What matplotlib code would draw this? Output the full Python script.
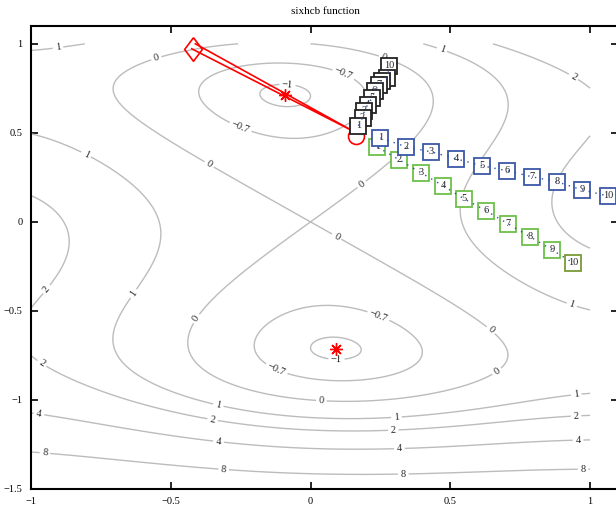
import numpy as np
import matplotlib
matplotlib.use("Agg")
import matplotlib.pyplot as plt

plt.rcParams['font.family'] = ['Liberation Serif', 'DejaVu Serif']

# contour field: six-hump camel back function
levels = [-1, -0.7, 0, 1, 2, 4, 8]
gx = np.linspace(-1, 1, 401)
gy = np.linspace(-1.5, 1, 501)

def sixhcb(x, y):
    return (4 - 2.1 * x**2 + x**4 / 3) * x**2 + x * y + (-4 + 4 * y**2) * y**2

# contour label positions
label_pos = [(-0.904, 0.983), (-0.55, 0.91), (-0.082, 0.775), (0.118, 0.83),
             (-0.25, 0.534), (0.264, 0.927), (0.471, 0.972), (0.943, 0.82),
             (-0.8, 0.388), (-0.364, 0.32), (0.182, 0.213), (0.093, -0.084),
             (-0.946, -0.376), (-0.632, -0.404), (-0.407, -0.545), (0.243, -0.528),
             (0.643, -0.612), (0.093, -0.764), (-0.121, -0.826), (0.668, -0.843),
             (0.039, -1.0), (0.936, -0.46), (-0.96, -0.792), (-0.329, -1.022),
             (0.307, -1.09), (0.95, -0.966), (-0.35, -1.107), (0.296, -1.169),
             (0.95, -1.09), (-0.971, -1.073), (-0.329, -1.23), (0.318, -1.275),
             (0.957, -1.219), (-0.95, -1.292), (-0.311, -1.388), (0.332, -1.416),
             (0.975, -1.388)]

# minima
min_x = [-0.0898, 0.0898]
min_y = [0.7126, -0.7126]

# red search path
start_x, start_y = -0.422, 0.97
end_x, end_y = 0.161, 0.483
path_x = [-0.412, 0.158, -0.425]
path_y = [1.0, 0.505, 0.972]

# numbered iterates
black_x = [0.171, 0.186, 0.193, 0.204, 0.221, 0.229, 0.246, 0.257, 0.275, 0.282]
black_y = [0.54, 0.585, 0.624, 0.657, 0.697, 0.736, 0.770, 0.792, 0.809, 0.876]
blue_x = [0.25, 0.343, 0.432, 0.521, 0.614, 0.704, 0.793, 0.882, 0.971, 1.064]
blue_y = [0.472, 0.421, 0.393, 0.354, 0.315, 0.287, 0.253, 0.225, 0.180, 0.146]
green_x = [0.239, 0.318, 0.396, 0.475, 0.55, 0.629, 0.707, 0.786, 0.864, 0.939]
green_y = [0.421, 0.348, 0.275, 0.202, 0.129, 0.062, -0.011, -0.084, -0.157, -0.230]
step_labels = [str(i) for i in range(1, 11)]

fig = plt.figure(figsize=(6.16, 5.08), dpi=100)
ax = fig.add_axes([31 / 616, 19 / 508, 587 / 616, 463 / 508])

X, Y = np.meshgrid(gx, gy)
cs = ax.contour(X, Y, sixhcb(X, Y), levels=levels, colors='#bcbcbc', linewidths=1.0,
                negative_linestyles='solid')

def fmt(v):
    s = f'{v:g}'
    return s.replace('-', '\u2212')

ax.clabel(cs, levels, manual=label_pos, inline=True, fmt=fmt, fontsize=7.5,
          colors='#222222', inline_spacing=3)

ax.plot(path_x, path_y, color='red', lw=1.2, zorder=5)
diamond = [(0, 1), (0.75, 0), (0, -1), (-0.75, 0), (0, 1)]
ax.plot(start_x, start_y, marker=diamond, ms=17, mfc='none', mec='red', mew=1.2, zorder=6)
ax.plot(end_x, end_y, marker='o', ms=11.5, mfc='none', mec='red', mew=1.2, zorder=6)
ax.plot(min_x, min_y, ls='none', marker=(8, 2, 0), ms=9, color='red', mew=1.0, zorder=6)


def boxed_path(xs, ys, edge, base, reverse=False):
    ax.plot(xs, ys, ls=(0, (1, 4)), color='#2f4fb0', lw=1.0, zorder=base + 40)
    order = range(len(xs) - 1, -1, -1) if reverse else range(len(xs))
    for k, i in enumerate(order):
        ec = edge[i] if isinstance(edge, list) else edge
        ax.plot(xs[i], ys[i], marker='s', ms=11.5, mfc='white', mec=ec, mew=1.3,
                zorder=base + 2 * k)
        ax.text(xs[i], ys[i], step_labels[i], ha='center', va='center', fontsize=7.5,
                color='#222222', zorder=base + 2 * k + 1)


green_edges = ['#6cc04a'] * 9 + ['#7a9a35']
boxed_path(green_x, green_y, green_edges, 10)
boxed_path(blue_x, blue_y, '#3a58a8', 40)
boxed_path(black_x, black_y, '#222222', 70, reverse=True)

ax.set_xlim(-1, 1.1)
ax.set_ylim(-1.5, 1.1)
ax.set_xticks([-1, -0.5, 0, 0.5, 1])
ax.set_xticklabels(['\u22121', '\u22120.5', '0', '0.5', '1'])
ax.set_yticks([-1.5, -1, -0.5, 0, 0.5, 1])
ax.set_yticklabels(['\u22121.5', '\u22121', '\u22120.5', '0', '0.5', '1'])
ax.tick_params(direction='in', top=True, right=True, length=5, width=1.2,
               labelsize=7.5, pad=6)
for sp in ax.spines.values():
    sp.set_linewidth(1.5)

fig.text(325 / 616, 1 - 11 / 508, 'sixhcb function', ha='center', va='center', fontsize=8)

fig.savefig('out.png', dpi=100)
